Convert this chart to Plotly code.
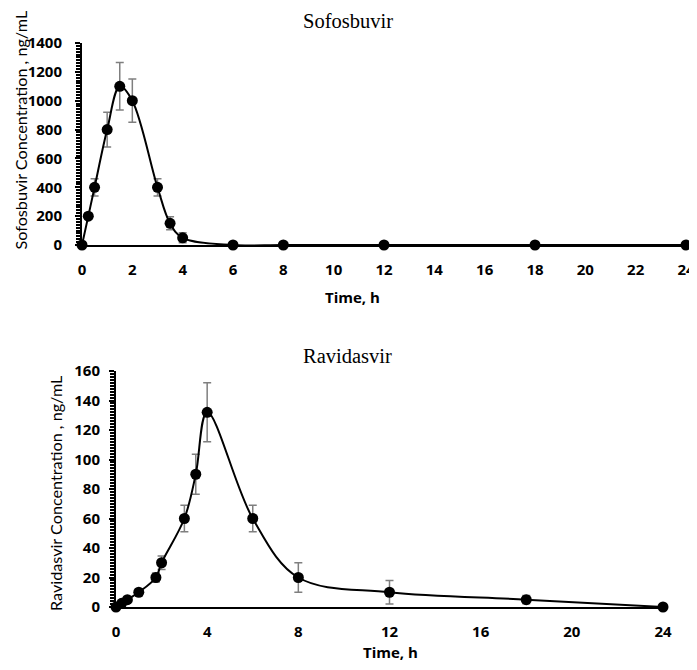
import plotly.graph_objects as go

# ---- data ----
sof_time = [0, 0.25, 0.5, 1, 1.5, 2, 3, 3.5, 4, 6, 8, 12, 18, 24]
sof_conc = [0, 200, 400, 800, 1100, 1000, 400, 150, 50, 0, 0, 0, 0, 0]
sof_err = [0, 20, 60, 120, 165, 150, 60, 45, 35, 0, 0, 0, 0, 0]

rav_time = [0, 0.25, 0.5, 1, 1.75, 2, 3, 3.5, 4, 6, 8, 12, 18, 24]
rav_conc = [0, 2.5, 5, 10, 20, 30, 60, 90, 132, 60, 20, 10, 5, 0]
rav_err = [0, 1, 1.5, 2, 3, 4.5, 9, 13.5, 20, 9, 10, 8, 2.8, 0]

sof_xticks = list(range(0, 25, 2))
rav_xticks = list(range(0, 25, 4))
sof_yticks = list(range(0, 1401, 200))
rav_yticks = list(range(0, 161, 20))

OFF = 8  # page body margin
W, H = 697 - OFF, 670 - 2 * OFF

fig = go.Figure()

def add_series(x, y, e, xa, ya):
    fig.add_trace(go.Scatter(
        x=x, y=y, xaxis=xa, yaxis=ya,
        mode="lines+markers",
        line=dict(color="black", width=2, shape="spline", smoothing=1),
        marker=dict(color="black", size=11),
        error_y=dict(type="data", array=e, visible=True, color="#7f7f7f",
                     thickness=1.5, width=4),
        cliponaxis=False, showlegend=False,
    ))

add_series(sof_time, sof_conc, sof_err, "x", "y")
add_series(rav_time, rav_conc, rav_err, "x2", "y2")

tickfont = dict(family="Open Sans", size=15, color="black", weight="bold")

def px_x(p):
    return (p - OFF) / W

def px_y(p):
    return 1 - (p - OFF) / H

common_x = dict(range=[0, 24], showline=True, linecolor="black", linewidth=2,
                showgrid=False, zeroline=False, ticks="", tickfont=tickfont,
                automargin=False, ticklabeloverflow="allow")
common_y = dict(showline=True, linecolor="black", linewidth=2, showgrid=False,
                zeroline=False, ticks="outside", ticklen=5, tickwidth=2,
                tickcolor="black", tickfont=tickfont, automargin=False,
                ticklabeloverflow="allow")

fig.update_layout(
    width=W, height=H,
    margin=dict(l=0, r=0, t=0, b=0, autoexpand=False),
    paper_bgcolor="white", plot_bgcolor="white",
    xaxis=dict(common_x, domain=[px_x(82), px_x(686)], anchor="y",
               tickvals=sof_xticks, ticklabelstandoff=10),
    yaxis=dict(common_y, domain=[px_y(245), px_y(43)], anchor="x",
               range=[0, 1400], tickvals=sof_yticks, ticklabelstandoff=10,
               minor=dict(dtick=20, ticks="outside", ticklen=4, tickwidth=1.5,
                          tickcolor="black")),
    xaxis2=dict(common_x, domain=[px_x(116), px_x(663)], anchor="y2",
                tickvals=rav_xticks, ticklabelstandoff=10),
    yaxis2=dict(common_y, domain=[px_y(607), px_y(371)], anchor="x2",
                range=[0, 160], tickvals=rav_yticks, ticklabelstandoff=6,
                minor=dict(dtick=2, ticks="outside", ticklen=4, tickwidth=1.5,
                           tickcolor="black")),
)

serif = dict(family="Liberation Serif", size=20.5, color="black")
ytitle = dict(family="Lato", size=16.2, color="black")
xtitle = dict(family="Open Sans", size=15, color="black", weight="bold")

annos = [
    dict(text="Sofosbuvir", x=px_x(348), y=1.0, yanchor="top", font=serif),
    dict(text="Ravidasvir", x=px_x(347), y=px_y(356), font=serif),
    dict(text="Time, h", x=px_x(352), y=px_y(297), font=xtitle),
    dict(text="Time, h", x=px_x(390), y=px_y(652), font=xtitle),
    dict(text="Sofosbuvir Concentration , ng/mL", x=0.0, xanchor="left",
         y=px_y(130), font=ytitle, textangle=-90),
    dict(text="Ravidasvir Concentration , ng/mL", x=px_x(55), y=px_y(493),
         font=ytitle, textangle=-90),
]
for a in annos:
    a.setdefault("xanchor", "center")
    a.setdefault("yanchor", "middle")
    fig.add_annotation(xref="paper", yref="paper", showarrow=False, **a)

fig.write_html("out.html")
